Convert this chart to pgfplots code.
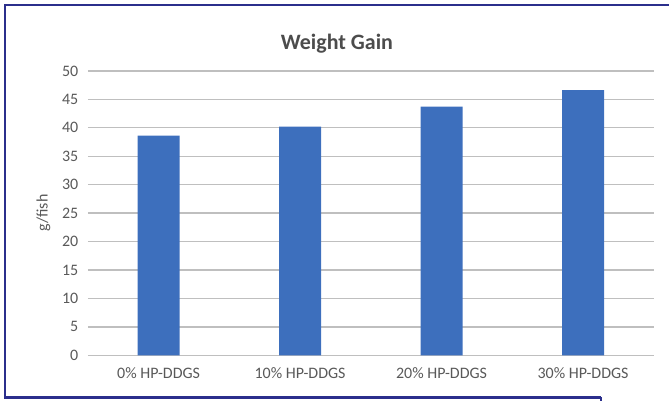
\documentclass[border=0pt]{standalone}
\usepackage{pgfplots}
\pgfplotsset{compat=1.18}
\usepackage{fontspec}
\setmainfont{Carlito}
\definecolor{barblue}{HTML}{3D6FBD}
\definecolor{gridgray}{HTML}{BFBFBF}
\definecolor{textgray}{HTML}{595959}
\definecolor{framenavy}{HTML}{2B2F8C}

\begin{document}
\begin{tikzpicture}[x=1pt,y=1pt]
    \begin{axis}[%
        at={(0,0)}, anchor=south west,
        scale only axis,
        width=567pt,
        height=285pt,
        xmin=-0.5, xmax=3.5,
        ymin=0, ymax=50,
        ytick={0,5,...,50},
        xtick=data,
        xticklabels={0\% HP-DDGS, 10\% HP-DDGS, 20\% HP-DDGS, 30\% HP-DDGS},
        axis line style={draw=none},
        major tick length=0pt,
        ymajorgrids,
        grid style={gridgray, line width=1.4pt},
        tick label style={textgray},
        yticklabel style={font=\fontsize{16}{16}\selectfont, xshift=-6pt},
        xticklabel style={font=\fontsize{16}{16}\selectfont, yshift=-9pt},
        /pgf/number format/assume math mode=true,
        ylabel={g/fish},
        ylabel style={font=\fontsize{16}{16}\selectfont, textgray, yshift=5pt},
        title={\textbf{Weight Gain}},
        title style={font=\fontsize{22}{22}\selectfont, color=black!70, at={(rel axis cs:0.44,1)}, yshift=8pt},
        clip=false,
    ]
    \addplot[ybar, bar width=42pt, fill=barblue, draw=none] coordinates {
        (0, 38.6)
        (1, 40.2)
        (2, 43.7)
        (3, 46.6)
    };
    \end{axis}
    % frame of the screenshot
    \draw[framenavy, line width=2.5pt] (514,-42) -- (-83,-42) -- (-83,351) -- (582,351);
    \draw[framenavy, line width=1.5pt] (514,-42) -- (514,-46);
    \useasboundingbox (-88,-46) rectangle (582,356);
\end{tikzpicture}
\end{document}
